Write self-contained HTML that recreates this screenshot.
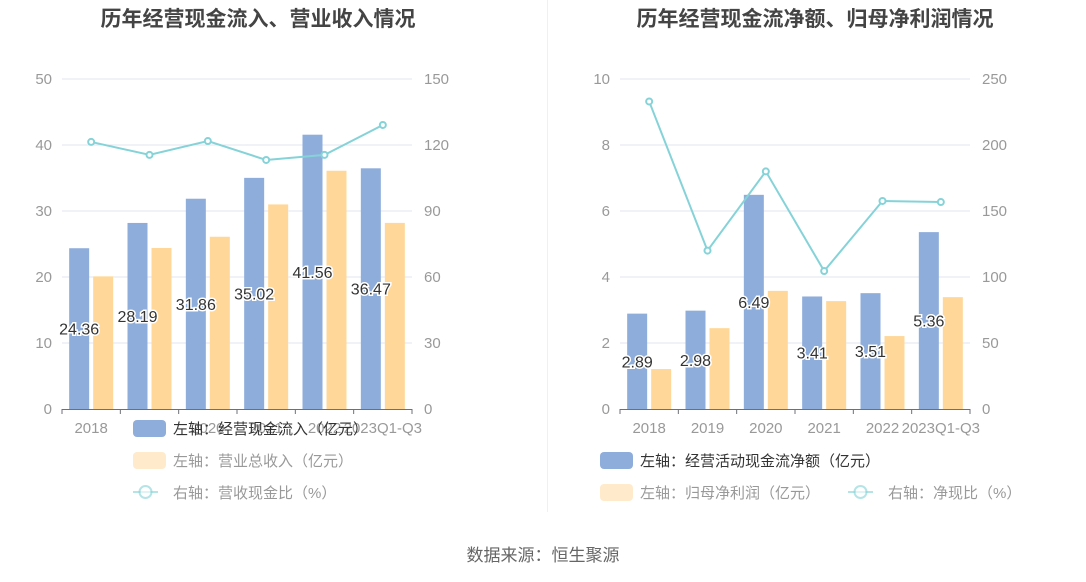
<!DOCTYPE html>
<html><head><meta charset="utf-8"><style>
body{margin:0;background:#fff;width:1086px;height:582px;overflow:hidden;font-family:"Liberation Sans","Noto Sans CJK SC",sans-serif}
svg{position:absolute;left:0;top:0}
</style></head><body>
<svg id="s" width="1086" height="582" font-family="Liberation Sans, Noto Sans CJK SC, sans-serif"></svg>
<script>
const cats=["2018","2019","2020","2021","2022","2023Q1-Q3"];
const L_inflow=[24.36,28.19,31.86,35.02,41.56,36.47];
const L_revenue=[20.1,24.4,26.1,31.0,36.1,28.2];
const L_ratio=[121.4,115.5,121.8,113.2,115.5,129.1];
const R_netcash=[2.89,2.98,6.49,3.41,3.51,5.36];
const R_profit=[1.21,2.45,3.58,3.27,2.21,3.39];
const R_ratio=[233,120,180,104.5,157.6,156.8];
const L_ticksL=[0,10,20,30,40,50],L_ticksR=[0,30,60,90,120,150];
const R_ticksL=[0,2,4,6,8,10],R_ticksR=[0,50,100,150,200,250];
const s=document.getElementById('s');const NS="http://www.w3.org/2000/svg";
function el(t,a,txt){const e=document.createElementNS(NS,t);for(const k in a)e.setAttribute(k,a[k]);if(txt!=null)e.textContent=txt;s.appendChild(e);return e;}
const BLUE="#8eaddb",ORG="#ffd899",LINE="#85d3d8";
function chart(p,x0,x1,title,tx,inflow,rev,ratio,tl,tr,maxL,maxR,legend){
 const y0=409,yT=79;const bw=(x1-x0)/cats.length;
 const yL=v=>y0-(v/maxL)*(y0-yT),yR=v=>y0-(v/maxR)*(y0-yT),xc=i=>x0+bw*(i+.5);
 let t=el('text',{x:tx,y:26,'text-anchor':'middle','font-size':21,'font-weight':'bold',fill:'#444'},title);
 
 tl.forEach((v,i)=>{const y=yL(v);
  if(i>0){const g=el('line',{x1:x0,x2:x1,y1:y,y2:y,stroke:'#e0e6f1'});}
  const a=el('text',{x:x0-10,y:y+5,'text-anchor':'end','font-size':15,fill:'#999'},v);
  const b=el('text',{x:x1+12,y:y+5,'font-size':15,fill:'#999'},tr[i]);});
 cats.forEach((c,i)=>{
  const b1=el('rect',{x:xc(i)-22,y:yL(inflow[i]),width:20,height:y0-yL(inflow[i]),fill:BLUE});
  const b2=el('rect',{x:xc(i)+2,y:yL(rev[i]),width:20,height:y0-yL(rev[i]),fill:ORG});
 });
 const ax=el('line',{x1:x0,x2:x1,y1:y0+.5,y2:y0+.5,stroke:'#6e7079'});
 for(let i=0;i<=cats.length;i++){const k=el('line',{x1:x0+bw*i,x2:x0+bw*i,y1:y0,y2:y0+5,stroke:'#6e7079'});}
 cats.forEach((c,i)=>{const a=el('text',{x:xc(i),y:433,'text-anchor':'middle','font-size':15,fill:'#999'},c);});
 const pl=el('polyline',{points:ratio.map((v,i)=>xc(i)+','+yR(v)).join(' '),fill:'none',stroke:LINE,'stroke-width':2});
 ratio.forEach((v,i)=>{const d=el('circle',{cx:xc(i),cy:yR(v),r:3,fill:'#fff',stroke:LINE,'stroke-width':2});});
 inflow.forEach((v,i)=>{const a=el('text',{x:xc(i)-12,y:(yL(v)+y0)/2+6,'text-anchor':'middle','font-size':16,fill:'#333',stroke:'#fff','stroke-width':3,'paint-order':'stroke'},v.toFixed(2));});
 legend.forEach(g=>{
  let m;
  if(g.t==='line'){m=el('line',{x1:g.x,x2:g.x+25,y1:g.y,y2:g.y,stroke:LINE,'stroke-width':2});el('circle',{cx:g.x+12.5,cy:g.y,r:6,fill:'#fff',stroke:LINE,'stroke-width':2,opacity:.6});m.setAttribute('opacity',.6);}
  else m=el('rect',{x:g.x,y:g.y-8,width:33,height:17,rx:4,fill:g.c,opacity:g.o});
  
  const a=el('text',{x:g.x+40,y:g.y+6,'font-size':15,fill:g.f},g.l);});
}
chart('left',62,412,'历年经营现金流入、营业收入情况',258,L_inflow,L_revenue,L_ratio,L_ticksL,L_ticksR,50,150,[
 {x:133,y:428,c:BLUE,o:1,f:'#333',l:'左轴：经营现金流入（亿元）'},
 {x:133,y:460,c:ORG,o:.5,f:'#999',l:'左轴：营业总收入（亿元）'},
 {x:133,y:492,t:'line',f:'#999',l:'右轴：营收现金比（%）'}]);
chart('right',620,970,'历年经营现金流净额、归母净利润情况',815,R_netcash,R_profit,R_ratio,R_ticksL,R_ticksR,10,250,[
 {x:600,y:460,c:BLUE,o:1,f:'#333',l:'左轴：经营活动现金流净额（亿元）'},
 {x:600,y:492,c:ORG,o:.5,f:'#999',l:'左轴：归母净利润（亿元）'},
 {x:848,y:492,t:'line',f:'#999',l:'右轴：净现比（%）'}]);
const dv=el('line',{x1:547.5,x2:547.5,y1:0,y2:512,stroke:'#eef0f4'});
const src=el('text',{x:543,y:561,'text-anchor':'middle','font-size':17,fill:'#666'},'数据来源：恒生聚源');
</script></body></html>
